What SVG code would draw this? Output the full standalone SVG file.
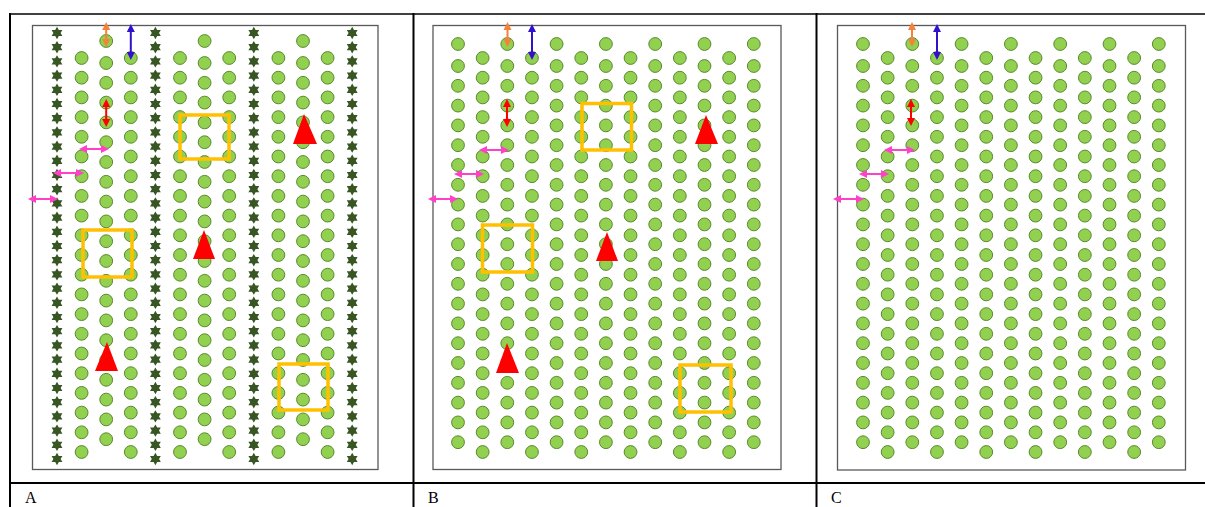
<svg xmlns="http://www.w3.org/2000/svg" xmlns:xlink="http://www.w3.org/1999/xlink" width="1205" height="507" viewBox="0 0 1205 507">
<style>
.dots{fill:#92D050;stroke:#5A8A30;stroke-width:1}
.stars{fill:#375623}
.frame{fill:none;stroke:#595959;stroke-width:1.3}
.sq{fill:none;stroke:#FFC000;stroke-width:3.5}
.tri{fill:#FF0000}
.grid{stroke:#000;stroke-width:2;fill:none}
.lbl{font-family:"Liberation Serif","DejaVu Serif",serif;font-size:16px;fill:#000}
.a{stroke-width:2;fill:none}
.or{stroke:#F5813A;marker-start:url(#mOr);marker-end:url(#mOr)}
.bl{stroke:#3311CC;marker-start:url(#mBl);marker-end:url(#mBl)}
.rd{stroke:#FF0000;marker-start:url(#mRd);marker-end:url(#mRd)}
.mg{stroke:#FF40C8;marker-start:url(#mMg);marker-end:url(#mMg)}
</style>
<defs>
<marker id="mOr" markerUnits="userSpaceOnUse" markerWidth="10" markerHeight="10" viewBox="0 -5 10 10" refX="0" refY="0" orient="auto-start-reverse"><path d="M0,-4 L8,0 L0,4z" fill="#F5813A"/></marker>
<marker id="mBl" markerUnits="userSpaceOnUse" markerWidth="10" markerHeight="10" viewBox="0 -5 10 10" refX="0" refY="0" orient="auto-start-reverse"><path d="M0,-4 L8,0 L0,4z" fill="#3311CC"/></marker>
<marker id="mRd" markerUnits="userSpaceOnUse" markerWidth="10" markerHeight="10" viewBox="0 -5 10 10" refX="0" refY="0" orient="auto-start-reverse"><path d="M0,-4 L8,0 L0,4z" fill="#FF0000"/></marker>
<marker id="mMg" markerUnits="userSpaceOnUse" markerWidth="10" markerHeight="10" viewBox="0 -5 10 10" refX="0" refY="0" orient="auto-start-reverse"><path d="M0,-4 L8,0 L0,4z" fill="#FF40C8"/></marker>
<g id="colOdd" class="dots">
<circle cy="44" r="6.4"/><circle cy="66" r="6.4"/><circle cy="85.8" r="6.4"/><circle cy="105.6" r="6.4"/><circle cy="125.4" r="6.4"/><circle cy="145.2" r="6.4"/><circle cy="165" r="6.4"/><circle cy="184.8" r="6.4"/><circle cy="204.6" r="6.4"/><circle cy="224.4" r="6.4"/><circle cy="244.2" r="6.4"/><circle cy="264" r="6.4"/><circle cy="283.8" r="6.4"/><circle cy="303.6" r="6.4"/><circle cy="323.4" r="6.4"/><circle cy="343.2" r="6.4"/><circle cy="363" r="6.4"/><circle cy="382.8" r="6.4"/><circle cy="402.6" r="6.4"/><circle cy="422.4" r="6.4"/><circle cy="442.2" r="6.4"/>
</g>
<g id="colEven" class="dots">
<circle cy="58" r="6.4"/><circle cy="77.7" r="6.4"/><circle cy="97.4" r="6.4"/><circle cy="117.1" r="6.4"/><circle cy="136.8" r="6.4"/><circle cy="156.5" r="6.4"/><circle cy="176.2" r="6.4"/><circle cy="195.9" r="6.4"/><circle cy="215.6" r="6.4"/><circle cy="235.3" r="6.4"/><circle cy="255" r="6.4"/><circle cy="274.7" r="6.4"/><circle cy="294.4" r="6.4"/><circle cy="314.1" r="6.4"/><circle cy="333.8" r="6.4"/><circle cy="353.5" r="6.4"/><circle cy="373.2" r="6.4"/><circle cy="392.9" r="6.4"/><circle cy="412.6" r="6.4"/><circle cy="432.3" r="6.4"/><circle cy="452" r="6.4"/>
</g>
<path id="star" d="M0,-6.2 L1.8,-3.1 L5.4,-3.1 L3.6,0 L5.4,3.1 L1.8,3.1 L0,6.2 L-1.8,3.1 L-5.4,3.1 L-3.6,0 L-5.4,-3.1 L-1.8,-3.1 Z"/>
<g id="colStar" class="stars">
<use href="#star" y="33"/><use href="#star" y="47.2"/><use href="#star" y="61.4"/><use href="#star" y="75.6"/><use href="#star" y="89.8"/><use href="#star" y="104"/><use href="#star" y="118.2"/><use href="#star" y="132.4"/><use href="#star" y="146.6"/><use href="#star" y="160.8"/><use href="#star" y="175"/><use href="#star" y="189.2"/><use href="#star" y="203.4"/><use href="#star" y="217.6"/><use href="#star" y="231.8"/><use href="#star" y="246"/><use href="#star" y="260.2"/><use href="#star" y="274.4"/><use href="#star" y="288.6"/><use href="#star" y="302.8"/><use href="#star" y="317"/><use href="#star" y="331.2"/><use href="#star" y="345.4"/><use href="#star" y="359.6"/><use href="#star" y="373.8"/><use href="#star" y="388"/><use href="#star" y="402.2"/><use href="#star" y="416.4"/><use href="#star" y="430.6"/><use href="#star" y="444.8"/><use href="#star" y="459"/>
</g>
</defs>
<rect width="1205" height="507" fill="#fff"/>

<g id="table" class="grid">
<line x1="9" y1="14" x2="1205" y2="14" stroke-width="1.5"/>
<line x1="9" y1="483" x2="1205" y2="483"/>
<line x1="10" y1="13" x2="10" y2="507"/>
<line x1="413.5" y1="13" x2="413.5" y2="507"/>
<line x1="816.5" y1="13" x2="816.5" y2="507"/>
</g>

<g id="panelA">
<rect class="frame" x="32.5" y="25.5" width="345.5" height="444"/>
<use href="#colStar" x="57"/><use href="#colStar" x="155.4"/><use href="#colStar" x="253.8"/><use href="#colStar" x="352.2"/>
<use href="#colEven" x="81.6"/><use href="#colEven" x="130.8"/><use href="#colEven" x="180"/><use href="#colEven" x="229.2"/><use href="#colEven" x="278.4"/><use href="#colEven" x="327.6"/>
<use href="#colOdd" x="106.2" y="-3"/><use href="#colOdd" x="204.6" y="-3"/><use href="#colOdd" x="303" y="-3"/>
<rect class="sq" x="180" y="115" width="49" height="44"/>
<rect class="sq" x="83" y="230" width="49" height="47"/>
<rect class="sq" x="279" y="364" width="49" height="46"/>
<polygon class="tri" points="204,230 215,259 193,259"/>
<polygon class="tri" points="304,114 317,144 293,144"/>
<polygon class="tri" points="107,342 118,371 95,371"/>
<text class="lbl" x="25" y="503">A</text>
</g>

<g id="panelB">
<rect class="frame" x="433" y="25.5" width="348" height="444"/>
<use href="#colOdd" x="458"/><use href="#colOdd" x="507.3"/><use href="#colOdd" x="556.6"/><use href="#colOdd" x="605.9"/><use href="#colOdd" x="655.2"/><use href="#colOdd" x="704.5"/><use href="#colOdd" x="753.8"/>
<use href="#colEven" x="482.65"/><use href="#colEven" x="531.95"/><use href="#colEven" x="581.25"/><use href="#colEven" x="630.55"/><use href="#colEven" x="679.85"/><use href="#colEven" x="729.15"/>
<rect class="sq" x="582" y="103.5" width="49.5" height="46.5"/>
<rect class="sq" x="482.5" y="225" width="50" height="47"/>
<rect class="sq" x="680" y="365" width="51" height="47"/>
<polygon class="tri" points="607,232 618,261 596,261"/>
<polygon class="tri" points="706,115 718,144 695,144"/>
<polygon class="tri" points="507,343 519,373 496,373"/>
<text class="lbl" x="428" y="503">B</text>
</g>

<g id="panelC">
<rect class="frame" x="837.5" y="25.5" width="348" height="444.5"/>
<use href="#colOdd" x="863"/><use href="#colOdd" x="912.3"/><use href="#colOdd" x="961.6"/><use href="#colOdd" x="1010.9"/><use href="#colOdd" x="1060.2"/><use href="#colOdd" x="1109.5"/><use href="#colOdd" x="1158.8"/>
<use href="#colEven" x="887.65"/><use href="#colEven" x="936.95"/><use href="#colEven" x="986.25"/><use href="#colEven" x="1035.55"/><use href="#colEven" x="1084.85"/><use href="#colEven" x="1134.15"/>
<text class="lbl" x="831" y="503">C</text>
</g>

<g id="connectors">
<line class="a or" x1="106.2" y1="30" x2="106.2" y2="39"/>
<line class="a bl" x1="130.8" y1="32" x2="130.8" y2="52"/>
<line class="a rd" x1="106.2" y1="107" x2="106.2" y2="119"/>
<line class="a mg" x1="87" y1="149" x2="101" y2="149"/>
<line class="a mg" x1="61" y1="173" x2="76" y2="173"/>
<line class="a mg" x1="36" y1="199" x2="50" y2="199"/>

<line class="a or" x1="507.5" y1="30" x2="507.5" y2="39"/>
<line class="a bl" x1="532" y1="32" x2="532" y2="52"/>
<line class="a rd" x1="507" y1="107" x2="507" y2="119"/>
<line class="a mg" x1="487" y1="150" x2="501" y2="150"/>
<line class="a mg" x1="462" y1="174" x2="476" y2="174"/>
<line class="a mg" x1="436" y1="199" x2="450" y2="199"/>

<line class="a or" x1="912" y1="30" x2="912" y2="39"/>
<line class="a bl" x1="937" y1="32" x2="937" y2="52"/>
<line class="a rd" x1="911" y1="107" x2="911" y2="118"/>
<line class="a mg" x1="892" y1="150" x2="907" y2="150"/>
<line class="a mg" x1="867" y1="174" x2="881" y2="174"/>
<line class="a mg" x1="841" y1="199" x2="856" y2="199"/>
</g>
</svg>
